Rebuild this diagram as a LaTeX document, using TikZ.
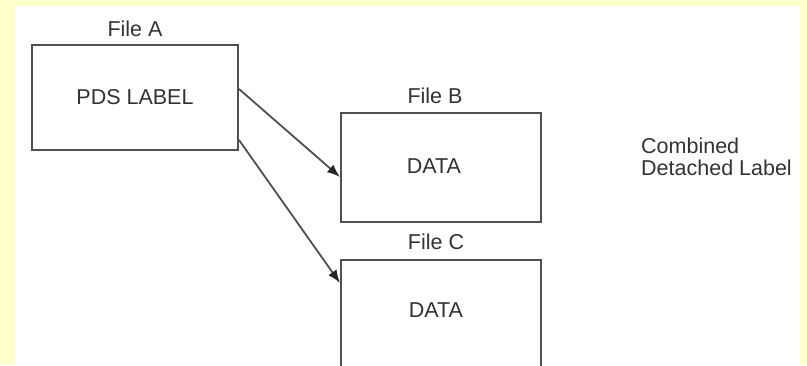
\documentclass[tikz,border=0pt]{standalone}
\usepackage{fontspec}
\setmainfont{Liberation Sans}
\usetikzlibrary{arrows.meta,calc}
\definecolor{pagebg}{HTML}{FFFFCC}
\definecolor{ink}{HTML}{505050}
\definecolor{txt}{HTML}{333333}
\tikzset{
  filebox/.style={draw=ink, line width=2pt, fill=white, anchor=north west,
    inner sep=0pt, text=txt, font=\fontsize{21.5}{26}\selectfont},
  fname/.style={text=txt, font=\fontsize{21.5}{26}\selectfont, inner sep=0pt},
  link/.style={draw=ink, line width=1.8pt,
    -{Latex[length=13pt,width=10pt,fill=black!85,color=black!85]}},
}
\begin{document}
\begin{tikzpicture}[x=1pt,y=-1pt]
  \useasboundingbox (0,0) rectangle (807,365);
  \clip (0,0) rectangle (807,365);
  % page background and white panel
  \fill[pagebg] (0,0) rectangle (807,365);
  \fill[white] (15,6) rectangle (800,365);

  % the three files
  \node[filebox, minimum width=206pt, minimum height=105pt] (A) at (31,44) {PDS LABEL};
  \node[filebox, minimum width=200pt, minimum height=109pt] (B) at (340,112) {};
  \node[filebox, minimum width=200pt, minimum height=140pt] (C) at (340,259) {};
  \node[fname] (dB) at (434,166) {DATA};
  \node[fname] (dC) at (436,310) {DATA};

  % file names
  \node[fname] (fA) at ([yshift=15pt]A.north) {File A};
  \node[fname] (fB) at (435,96) {File B};
  \node[fname] (fC) at (436,242) {File C};

  % caption on the right
  \node[fname, align=left, anchor=west, font=\fontsize{21.5}{22}\selectfont] (cap) at (641,157)
    {Combined\\Detached Label};

  % pointers from the label file to the data files
  \draw[link] ([yshift=8.5pt]A.east) -- ([yshift=-9.5pt]B.west);
  \draw[link] ([yshift=-42.5pt]A.east) -- ([yshift=-24pt]C.north west);
\end{tikzpicture}
\end{document}
